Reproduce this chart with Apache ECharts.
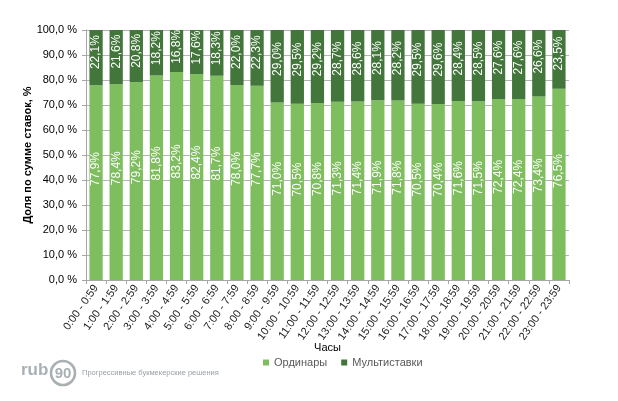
<!DOCTYPE html>
<html><head><meta charset="utf-8">
<script src="https://cdn.jsdelivr.net/npm/echarts@6/dist/echarts.min.js"></script>
<style>html,body{margin:0;padding:0;background:#fff}#c{width:618px;height:401px}</style>
</head><body><div id="c"></div>
<script>
var categories = ['0:00 - 0:59','1:00 - 1:59','2:00 - 2:59','3:00 - 3:59','4:00 - 4:59','5:00 - 5:59','6:00 - 6:59','7:00 - 7:59','8:00 - 8:59','9:00 - 9:59','10:00 - 10:59','11:00 - 11:59','12:00 - 12:59','13:00 - 13:59','14:00 - 14:59','15:00 - 15:59','16:00 - 16:59','17:00 - 17:59','18:00 - 18:59','19:00 - 19:59','20:00 - 20:59','21:00 - 21:59','22:00 - 22:59','23:00 - 23:59'];
var singles = [77.9,78.4,79.2,81.8,83.2,82.4,81.7,78.0,77.7,71.0,70.5,70.8,71.3,71.4,71.9,71.8,70.5,70.4,71.6,71.5,72.4,72.4,73.4,76.5];
var multis = [22.1,21.6,20.8,18.2,16.8,17.6,18.3,22.0,22.3,29.0,29.5,29.2,28.7,28.6,28.1,28.2,29.5,29.6,28.4,28.5,27.6,27.6,26.6,23.5];
var seriesNames = ['Ординары','Мультиставки'];

var F = '"Liberation Sans",Arial,sans-serif';
function pct(v){ return v.toFixed(1).replace('.', ',') + '%'; }
var chart = echarts.init(document.getElementById('c'), null, {renderer:'canvas'});
chart.setOption({
  animation:false,
  grid:{left:86, right:49, top:30, bottom:121},
  legend:{
    data:seriesNames, top:352, left:258, itemWidth:6, itemHeight:6, itemGap:14, icon:'rect',
    textStyle:{fontFamily:F, fontSize:11, color:'#595959'}
  },
  xAxis:{
    type:'category', data:categories,
    name:'Часы', nameLocation:'middle', nameGap:62, nameMoveOverlap:false,
    nameTextStyle:{fontFamily:F, fontSize:11, color:'#000'},
    axisLine:{lineStyle:{color:'#a6a6a6'}},
    axisTick:{show:true, length:4, lineStyle:{color:'#a6a6a6'}},
    axisLabel:{interval:0, rotate:55, fontFamily:F, fontSize:11, color:'#222', margin:6}
  },
  yAxis:{
    type:'value', min:0, max:100, interval:10,
    name:'Доля по сумме ставок, %', nameLocation:'middle', nameGap:53, nameRotate:90, nameMoveOverlap:false,
    nameTextStyle:{fontFamily:F, fontSize:11, fontWeight:'bold', color:'#000'},
    axisLine:{show:true, lineStyle:{color:'#a6a6a6'}},
    axisTick:{show:true, length:4, lineStyle:{color:'#a6a6a6'}},
    splitLine:{lineStyle:{color:'#b4b4b4', width:1}},
    axisLabel:{fontFamily:F, fontSize:11, color:'#000', margin:9,
      formatter:function(v){ return v.toFixed(1).replace('.', ',') + ' %'; }}
  },
  series:[
    {name:seriesNames[0], type:'bar', stack:'a', data:singles, barCategoryGap:'34%',
     itemStyle:{color:'#7fbe5f'},
     label:{show:true, rotate:90, position:['50%','43%'], align:'center', verticalAlign:'middle',
       color:'#fff', fontFamily:F, fontSize:12, formatter:function(p){return pct(p.value);}}},
    {name:seriesNames[1], type:'bar', stack:'a', data:multis, barCategoryGap:'34%',
     itemStyle:{color:'#42763a'},
     label:{show:true, rotate:90, position:['50%','40%'], align:'center', verticalAlign:'middle',
       color:'#fff', fontFamily:F, fontSize:12, formatter:function(p){return pct(p.value);}}}
  ],
  graphic:[
    {type:'text', x:21, y:379, style:{text:'rub', fontFamily:F, fontSize:17, fontWeight:'bold', fill:'#a9b0b4', textVerticalAlign:'bottom'}},
    {type:'circle', shape:{cx:63, cy:373, r:12}, style:{fill:'none', stroke:'#a9b0b4', lineWidth:2.6}},
    {type:'text', x:63, y:374, style:{text:'90', fontFamily:F, fontSize:15, fontWeight:'bold', fill:'#a9b0b4', textAlign:'center', textVerticalAlign:'middle'}},
    {type:'text', x:82, y:373, style:{text:'Прогрессивные букмекерские решения', fontFamily:F, fontSize:7.5, fill:'#9aa0a4', textVerticalAlign:'middle'}}
  ]
});
</script></body></html>
